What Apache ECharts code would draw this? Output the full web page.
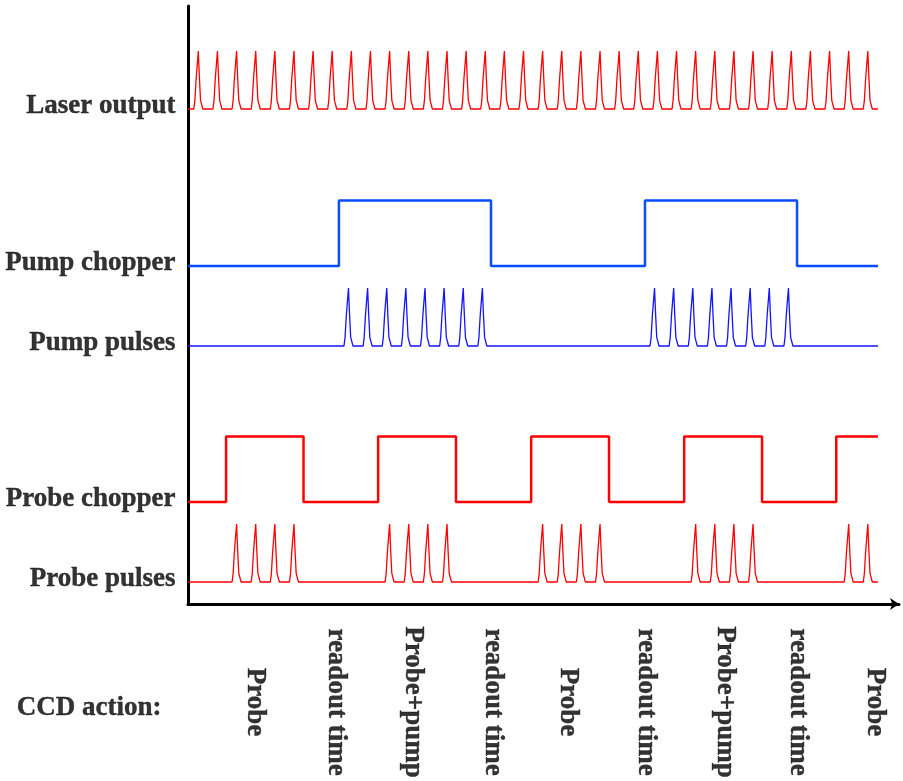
<!DOCTYPE html>
<html>
<head>
<meta charset="utf-8">
<script src="https://cdn.jsdelivr.net/npm/echarts@6/dist/echarts.min.js"></script>
<style>html,body{margin:0;padding:0;background:#fff}#c{width:903px;height:781px}</style>
</head>
<body>
<div id="c"></div>
<script>
// ---- data (time in units of the laser pulse period) ----
const laserPulseTimes = [0,1,2,3,4,5,6,7,8,9,10,11,12,13,14,15,16,17,18,19,20,21,22,23,24,25,26,27,28,29,30,31,32,33,34,35];
const pumpChopperEdges = [7.35, 15.3, 23.35, 31.3];
const pumpPulseTimes = [7.85,8.85,9.85,10.85,11.85,12.85,13.85,14.85,23.85,24.85,25.85,26.85,27.85,28.85,29.85,30.85];
const probeChopperEdges = [1.45, 5.5, 9.4, 13.47, 17.4, 21.47, 25.4, 29.47, 33.35];
const probePulseTimes = [2,3,4,5,10,11,12,13,18,19,20,21,26,27,28,29,34,35];
const laneNames = ['Laser output','Pump chopper','Pump pulses','Probe chopper','Probe pulses'];
const ccdActions = ['Probe','readout time','Probe+pump','readout time','Probe','readout time','Probe+pump','readout time','Probe'];
const ccdActionTimes = [2.95, 7.2, 11.2, 15.4, 19.35, 23.4, 27.55, 31.35, 35.35];
const ccdTitle = 'CCD action:';

// ---- layout constants ----
const timeMin = -0.54, traceEnd = 35.53, axisEnd = 36.63;
const laneBase = [49.5, 33.8, 25.8, 10.2, 2.2];
const pulseAmp = 5.8, chopAmp = 6.55;
const ccdRow = -9.8;
const shapeDt = [-0.235,-0.18,-0.115,-0.115,-0.055,0,0.055,0.115,0.115,0.18,0.235];
const shapeLv = [0,0.15,0.15,0.52,0.55,1,0.55,0.52,0.15,0.15,0];

function pulseTrain(times, base, amp){
  const pts=[[timeMin, base]];
  times.forEach(t=>shapeDt.forEach((d,i)=>pts.push([t+d, base+amp*shapeLv[i]])));
  pts.push([traceEnd, base]);
  return pts;
}
function chopper(edges, low, amp){
  let lv=0; const pts=[[timeMin, low]];
  edges.forEach(t=>{pts.push([t, low+amp*lv]); lv=1-lv; pts.push([t, low+amp*lv]);});
  pts.push([traceEnd, low+amp*lv]);
  return pts;
}
const font = {fontFamily:'Liberation Serif', fontWeight:'bold', fontSize:27, color:'#000000', textBorderColor:'#000000', textBorderWidth:0.4};
const RED='#ff0000', BLUE='#0a4cff', BLUE2='#1414ff';
function lineS(data,color,w){return {type:'line',data,showSymbol:false,symbol:'none',lineStyle:{color,width:w},silent:true,animation:false,z:3};}

const chart = echarts.init(document.getElementById('c'));
chart.setOption({
  backgroundColor:'#fff',
  animation:false,
  grid:{left:188,right:4,top:6,bottom:177},
  xAxis:{type:'value',min:timeMin,max:axisEnd,
    axisLine:{show:true,onZero:false,lineStyle:{color:'#000',width:3},symbol:['none','arrow'],symbolSize:[9,9]},
    axisTick:{show:false},axisLabel:{show:false},splitLine:{show:false}},
  yAxis:{type:'value',min:0,max:59.8,
    axisLine:{show:true,onZero:false,lineStyle:{color:'#000',width:3}},
    axisTick:{show:false},axisLabel:{show:false},splitLine:{show:false}},
  series:[
    lineS(pulseTrain(laserPulseTimes, laneBase[0], pulseAmp), RED, 1.3),
    lineS(chopper(pumpChopperEdges, laneBase[1], chopAmp), BLUE, 2.5),
    lineS(pulseTrain(pumpPulseTimes, laneBase[2], pulseAmp), BLUE2, 1.3),
    lineS(chopper(probeChopperEdges, laneBase[3], chopAmp), RED, 2.5),
    lineS(pulseTrain(probePulseTimes, laneBase[4], pulseAmp), RED, 1.3),
    {type:'scatter',clip:false,silent:true,symbolSize:1,itemStyle:{color:'rgba(0,0,0,0)'},
      data:laneNames.map((n,i)=>({value:[timeMin, laneBase[i]], name:n})),
      label:Object.assign({show:true,position:'left',distance:12,offset:[0,-3],formatter:p=>p.name},font)},
    {type:'scatter',clip:false,silent:true,symbolSize:1,itemStyle:{color:'rgba(0,0,0,0)'},
      data:ccdActions.map((n,i)=>({value:[ccdActionTimes[i], ccdRow], name:n})),
      label:Object.assign({show:true,position:'inside',rotate:-90,align:'center',verticalAlign:'middle',formatter:p=>p.name},font)},
    {type:'scatter',clip:false,silent:true,symbolSize:1,itemStyle:{color:'rgba(0,0,0,0)'},
      data:[{value:[timeMin, ccdRow-0.6], name:ccdTitle}],
      label:Object.assign({show:true,position:'left',distance:26,formatter:p=>p.name},font)}
  ]
});
</script>
</body>
</html>
